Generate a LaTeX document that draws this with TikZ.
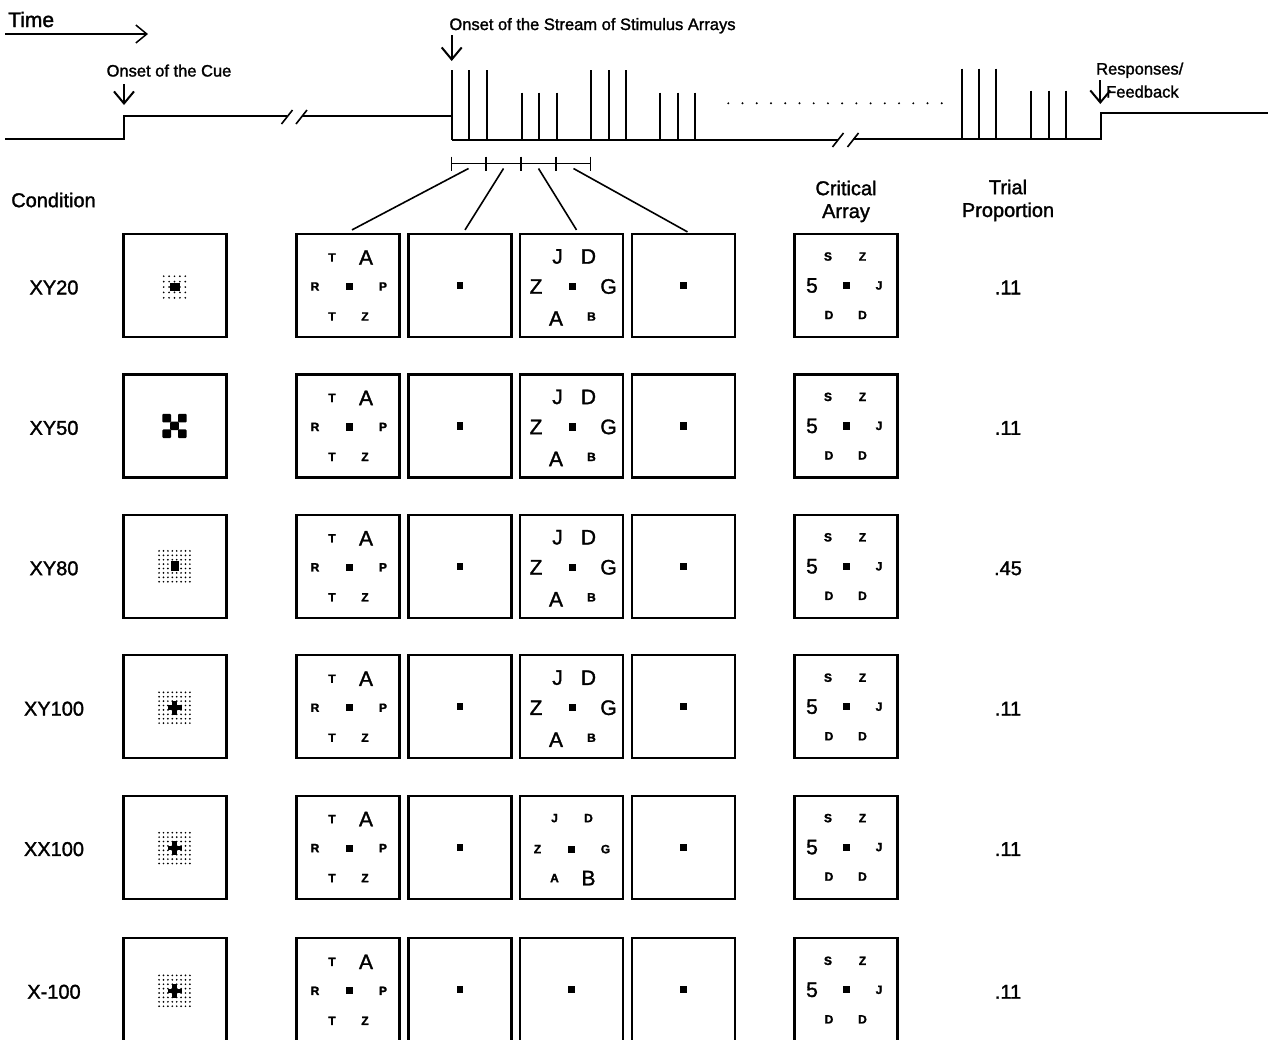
\documentclass[tikz,border=0pt]{standalone}
\usepackage{fontspec}
\setmainfont{Liberation Sans}[FakeBold=1.5]
\usetikzlibrary{arrows.meta,calc}
\tikzset{
  ln/.style={line width=2pt},
  frame/.style={draw, line width=2.2pt, minimum width=103pt, minimum height=103pt, inner sep=0pt},
  sm/.style={font=\fontsize{12}{12}\selectfont\bfseries, inner sep=0pt},
  lg/.style={font=\fontsize{21}{21}\selectfont, inner sep=0pt},
  lab/.style={font=\fontsize{20}{23}\selectfont, inner sep=0pt},
  note/.style={font=\fontsize{16.5}{19}\selectfont, inner sep=0pt},
  downarr/.style={line width=2pt, -{Straight Barb[length=12pt,width=20pt]}},
  fan/.style={line width=1.6pt},
  brk/.style={line width=1.6pt},
}
\newcommand{\fixsq}[2]{\fill ({#1-3.3},{#2-3.6}) rectangle ({#1+3.3},{#2+3.6});}
\newcommand{\arrFix}[3]{\node[frame] (#1) at (#2,#3) {}; \fixsq{#2}{#3}}
\newcommand{\arrTA}[3]{%
  \node[frame] (#1) at (#2,#3) {};
  \node[sm] (#1T1) at ({#2-16},{#3-28}) {T};
  \node[lg] (#1A) at ({#2+18},{#3-28}) {A};
  \node[sm] (#1R) at ({#2-33},{#3+1}) {R};
  \node[sm] (#1P) at ({#2+35},{#3+1}) {P};
  \node[sm] (#1T2) at ({#2-16},{#3+31}) {T};
  \node[sm] (#1Z) at ({#2+17},{#3+31}) {Z};
  \fixsq{#2+1.5}{#3+1}}
\newcommand{\arrJD}[3]{%
  \node[frame] (#1) at (#2,#3) {};
  \node[lg] (#1J) at ({#2-14},{#3-29}) {J};
  \node[lg] (#1D) at ({#2+17},{#3-29}) {D};
  \node[lg] (#1Z) at ({#2-35.5},{#3+1}) {Z};
  \node[lg] (#1G) at ({#2+37},{#3+1}) {G};
  \node[lg] (#1A) at ({#2-15.5},{#3+33}) {A};
  \node[sm] (#1B) at ({#2+20},{#3+31}) {B};
  \fixsq{#2+1}{#3+1}}
\newcommand{\arrJDx}[3]{%
  \node[frame] (#1) at (#2,#3) {};
  \node[sm] (#1J) at ({#2-17},{#3-29}) {J};
  \node[sm] (#1D) at ({#2+17},{#3-29}) {D};
  \node[sm] (#1Z) at ({#2-34},{#3+2}) {Z};
  \node[sm] (#1G) at ({#2+34},{#3+2}) {G};
  \node[sm] (#1A) at ({#2-17},{#3+31}) {A};
  \node[lg] (#1B) at ({#2+17},{#3+31}) {B};
  \fixsq{#2}{#3+2}}
\newcommand{\arrCrit}[3]{%
  \node[frame] (#1) at (#2,#3) {};
  \node[sm] (#1S) at ({#2-18},{#3-29}) {S};
  \node[sm] (#1Z) at ({#2+16.5},{#3-29}) {Z};
  \node[lg] (#1F) at ({#2-34},{#3}) {5};
  \node[sm] (#1J) at ({#2+33},{#3}) {J};
  \node[sm] (#1D1) at ({#2-17},{#3+29.5}) {D};
  \node[sm] (#1D2) at ({#2+16.5},{#3+29.5}) {D};
  \fixsq{#2+0.5}{#3}}
\newcommand{\dotgrid}[4]{%
  \foreach \gi in {1,...,#3}{\foreach \gj in {1,...,#3}{
    \fill ({#1+(\gi-(#3+1)/2)*#4},{#2+(\gj-(#3+1)/2)*#4}) circle (0.95pt);}}}
\newcommand{\cueA}[2]{\dotgrid{#1}{#2+1.5}{5}{5.4}
  \fill ({#1-5},{#2+1.5-4}) rectangle ({#1+5},{#2+1.5+4});}
\newcommand{\cueB}[2]{%
  \foreach \qx/\qy in {-7.8/-7.8, 7.8/-7.8, 0/0, -7.8/7.8, 7.8/7.8}{
    \fill[rounded corners=1pt] ({#1+(\qx)-4.3},{#2+(\qy)-4.3}) rectangle ({#1+(\qx)+4.3},{#2+(\qy)+4.3});}}
\newcommand{\cueC}[2]{\dotgrid{#1}{#2}{8}{4.4}
  \fill ({#1-4},{#2-5}) rectangle ({#1+4},{#2+5});}
\newcommand{\cueD}[2]{\dotgrid{#1}{#2+1}{8}{4.4}
  \fill ({#1-2.2},{#2+1-7}) rectangle ({#1+2.2},{#2+1+7});
  \fill ({#1-7},{#2+1-2.3}) rectangle ({#1+7},{#2+1+2.3});}

\begin{document}
\begin{tikzpicture}[x=1pt,y=-1pt]
\useasboundingbox[fill=white] (0,0) rectangle (1268,1039);

% Time arrow
\node[font=\fontsize{21}{21}\selectfont, inner sep=0pt, anchor=base west] (timeTxt) at (8,27) {Time};
\coordinate (t0) at (5,34);
\coordinate (t1) at (148,34);
\draw[line width=1.5pt, -{Straight Barb[length=11pt,width=18pt]}] (t0) -- (t1);

% timeline
\draw[ln] (5,139) -- (124,139) -- (124,116) -- (287,116);
\draw[ln] (302,116) -- (451.5,116);
\draw[ln] (451.5,139.5) -- (838,139.5);
\draw[ln] (853,139) -- (1101,139) -- (1101,113) -- (1268,113);
\draw[brk] (281.5,124) -- (292.5,110);
\draw[brk] (296,124) -- (307,110);
\draw[brk] (832.5,147) -- (843.5,133);
\draw[brk] (847.5,147) -- (858.5,133);

% spikes
\foreach \sx in {451.5,469,486.5,591,608.5,626}{\draw[ln] (\sx,70) -- (\sx,139.5);}
\foreach \sx in {521.5,539,556.5,660,677.5,695}{\draw[ln] (\sx,92.7) -- (\sx,139.5);}
\foreach \sx in {962,979,996}{\draw[ln] (\sx,68.5) -- (\sx,139);}
\foreach \sx in {1031,1048.5,1066}{\draw[ln] (\sx,90.7) -- (\sx,139);}
\foreach \k in {0,...,15}{\fill ({728.3+\k*14.23},103.3) circle (1.1pt);}

% onset labels and arrows
\node[note, anchor=base] (cueTxt) at (169,76.5) {Onset of the Cue};
\coordinate (ca0) at (124,84);
\coordinate (ca1) at (124,105);
\draw[downarr] (ca0) -- (ca1);
\node[note, anchor=base] (streamTxt) at (592.5,30) {Onset of the Stream of Stimulus Arrays};
\coordinate (sa0) at (451.7,35);
\coordinate (sa1) at (451.7,61);
\draw[downarr] (sa0) -- (sa1);
\node[note, anchor=base west] (respTxt) at (1096,74.5) {Responses/};
\node[note, anchor=base west] (fbTxt) at (1106,97.5) {Feedback};
\coordinate (ra0) at (1100.3,80);
\coordinate (ra1) at (1100.3,104);
\draw[downarr] (ra0) -- (ra1);

% scale bar
\draw[line width=1.8pt] (451.5,163.5) -- (590.5,163.5);
\foreach \tx in {451.5,486,521,556,590.5}{\draw[line width=1.8pt] (\tx,156.5) -- (\tx,170.5);}
\coordinate (s1) at (468.5,168.5);
\coordinate (s2) at (503.5,168.5);
\coordinate (s3) at (538.5,168.5);
\coordinate (s4) at (573.5,168.5);

% headers
\node[lab] (condH) at (53.5,200) {Condition};
\node[lab] (critH1) at (846,188) {Critical};
\node[lab, anchor=base] (critH2) at (846,218) {Array};
\node[lab] (trialH1) at (1008,187) {Trial};
\node[lab, anchor=base] (trialH2) at (1008,217) {Proportion};

% rows
\foreach \i/\yy/\lab/\cue/\third/\prop in {
  1/285.5/XY20/\cueA/\arrJD/.11,
  2/425.9/XY50/\cueB/\arrJD/.11,
  3/566.3/XY80/\cueC/\arrJD/.45,
  4/706.7/XY100/\cueD/\arrJD/.11,
  5/847.1/XX100/\cueD/\arrJDx/.11,
  6/989.8/X-100/\cueD/\arrFix/.11}{
  \node[lab] (cond\i) at (54,\yy+2) {\lab};
  \node[frame] (cue\i) at (175,\yy) {};
  \cue{174.5}{\yy}
  \arrTA{aa\i}{348}{\yy}
  \arrFix{ab\i}{460}{\yy}
  \third{ac\i}{571.5}{\yy}
  \arrFix{ad\i}{683.5}{\yy}
  \arrCrit{cr\i}{846}{\yy}
  \node[lab] (prop\i) at (1008,\yy+2) {\prop};
}

% fan lines
\draw[fan] (s1) -- ([xshift=4pt,yshift=3pt]aa1.north);
\draw[fan] (s2) -- ([xshift=5pt,yshift=3pt]ab1.north);
\draw[fan] (s3) -- ([xshift=5pt,yshift=3pt]ac1.north);
\draw[fan] (s4) -- ([xshift=4pt,yshift=1pt]ad1.north);
\end{tikzpicture}
\end{document}
